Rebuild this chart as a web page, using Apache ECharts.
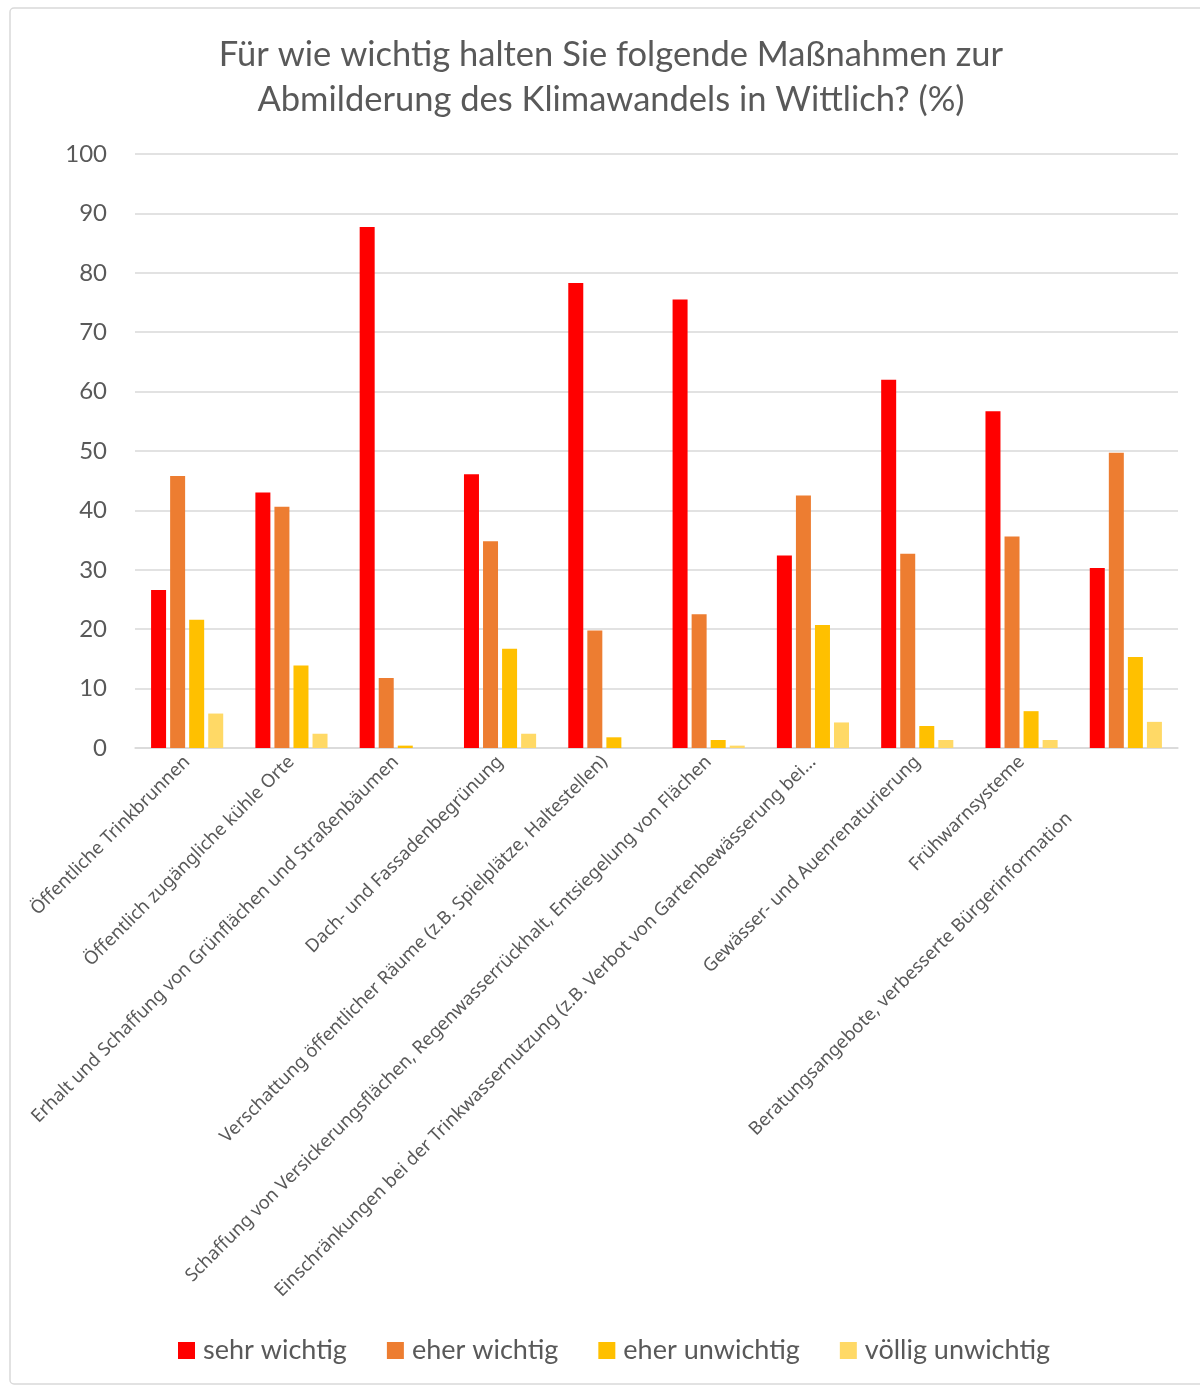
<!DOCTYPE html>
<html>
<head>
<meta charset="utf-8">
<script src="https://cdn.jsdelivr.net/npm/echarts@6/dist/echarts.min.js"></script>
<style>
html,body{margin:0;padding:0;background:#fff;}
#chart{width:1200px;height:1387px;}
</style>
</head>
<body>
<div id="chart"></div>
<script>
const titleText = 'Für wie wichtig halten Sie folgende Maßnahmen zur\nAbmilderung des Klimawandels in Wittlich? (%)';
const categories = [
  'Öffentliche Trinkbrunnen',
  'Öffentlich zugängliche kühle Orte',
  'Erhalt und Schaffung von Grünflächen und Straßenbäumen',
  'Dach- und Fassadenbegrünung',
  'Verschattung öffentlicher Räume (z.B. Spielplätze, Haltestellen)',
  'Schaffung von Versickerungsflächen, Regenwasserrückhalt, Entsiegelung von Flächen',
  'Einschränkungen bei der Trinkwassernutzung (z.B. Verbot von Gartenbewässerung bei...',
  'Gewässer- und Auenrenaturierung',
  'Frühwarnsysteme',
  'Beratungsangebote, verbesserte Bürgerinformation'
];
const seriesNames = ['sehr wichtig', 'eher wichtig', 'eher unwichtig', 'völlig unwichtig'];
const sehrWichtig = [26.6, 43.0, 87.7, 46.1, 78.3, 75.5, 32.4, 62.0, 56.7, 30.3];
const eherWichtig = [45.8, 40.6, 11.8, 34.8, 19.8, 22.5, 42.5, 32.7, 35.6, 49.7];
const eherUnwichtig = [21.6, 13.9, 0.4, 16.7, 1.8, 1.35, 20.7, 3.7, 6.2, 15.3];
const voelligUnwichtig = [5.8, 2.4, 0, 2.4, 0, 0.4, 4.3, 1.35, 1.35, 4.4];
const yTicks = [0, 10, 20, 30, 40, 50, 60, 70, 80, 90, 100];

const colors = ['#FF0000', '#ED7D31', '#FFC000', '#FFD966'];
const values = [sehrWichtig, eherWichtig, eherUnwichtig, voelligUnwichtig];
const labelFont = 'Noto Sans';
const labelSize = 18.3;

const chart = echarts.init(document.getElementById('chart'));
chart.setOption({
  animation: false,
  backgroundColor: '#ffffff',
  graphic: [{
    type: 'rect',
    shape: { x: 10, y: 8, width: 1200, height: 1376, r: 4 },
    style: { fill: 'none', stroke: '#d9d9d9', lineWidth: 1.5 },
    silent: true
  }],
  title: {
    text: titleText,
    left: 606,
    top: 27,
    textAlign: 'center',
    textStyle: {
      fontFamily: 'Lato',
      fontSize: 34.5,
      fontWeight: 'normal',
      color: '#595959',
      lineHeight: 45
    }
  },
  legend: {
    bottom: 18,
    left: 173,
    itemWidth: 17,
    itemHeight: 17,
    itemGap: 40,
    icon: 'rect',
    textStyle: { fontFamily: 'Lato', fontSize: 27, color: '#595959', padding: [0, 0, 0, 3] },
    data: seriesNames
  },
  grid: { left: 135, right: 22, top: 154, bottom: 639, containLabel: false },
  xAxis: {
    type: 'category',
    data: categories,
    axisLine: { lineStyle: { color: '#d9d9d9', width: 1.5 } },
    axisTick: { show: false },
    axisLabel: {
      interval: 0,
      rotate: 45,
      margin: 11,
      fontFamily: labelFont,
      fontSize: labelSize,
      color: '#595959',
      formatter: function (v, i) {
        return i === categories.length - 1 ? '{last|' + v + '}' : '{n|' + v + '}';
      },
      rich: {
        n: { fontFamily: labelFont, fontSize: labelSize, color: '#595959' },
        last: { fontFamily: labelFont, fontSize: labelSize, color: '#595959', padding: [0, 80, 0, 0] }
      }
    }
  },
  yAxis: {
    type: 'value',
    min: yTicks[0],
    max: yTicks[yTicks.length - 1],
    interval: 10,
    axisLine: { show: false },
    axisTick: { show: false },
    axisLabel: { fontFamily: 'Lato', fontSize: 24, color: '#595959', margin: 28 },
    splitLine: { lineStyle: { color: '#d9d9d9', width: 1.5 } }
  },
  series: seriesNames.map((name, k) => ({
    name: name,
    type: 'bar',
    data: values[k],
    barWidth: 15,
    barGap: '27%',
    itemStyle: { color: colors[k] }
  }))
});
</script>
</body>
</html>
